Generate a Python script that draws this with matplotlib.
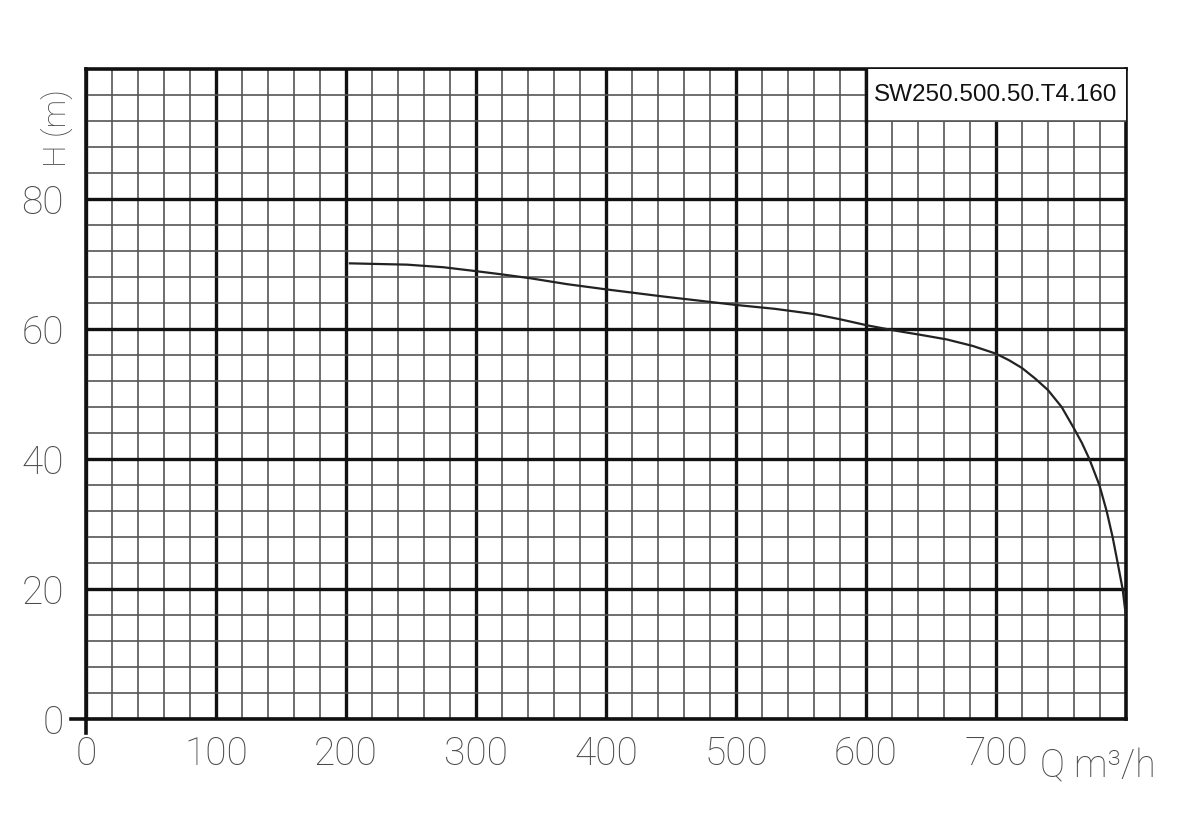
import matplotlib
matplotlib.use('Agg')
import matplotlib.pyplot as plt
from matplotlib.ticker import MultipleLocator
from matplotlib.patches import Rectangle

# pump curve (Q in m3/h, H in m)
flow = [203, 225, 247, 275, 300, 320, 342, 370, 400, 444, 470, 500, 530,
        560, 580, 600, 621, 642, 662, 682, 700, 710, 720, 730, 740, 750.5,
        760, 766, 771.8, 779.5, 785.1, 789.7, 793.6, 797.4, 800]
head = [70.1, 70.0, 69.9, 69.5, 68.9, 68.4, 67.8, 66.9, 66.1, 65.0, 64.4,
        63.7, 63.1, 62.3, 61.5, 60.6, 59.8, 59.1, 58.4, 57.4, 56.2, 55.2,
        54.0, 52.4, 50.6, 48.0, 44.7, 42.5, 40.0, 36.0, 32.0, 28.0, 24.0,
        20.0, 15.7]

model_name = 'SW250.500.50.T4.160'
x_ticks = [0, 100, 200, 300, 400, 500, 600, 700]
y_ticks = [0, 20, 40, 60, 80]

label_font = dict(family=['Roboto', 'DejaVu Sans'], weight='light', color='#4a4a4a')

fig = plt.figure(figsize=(12, 8.32), dpi=100)
ax = fig.add_axes([86/1200, 113/832, 1040/1200, 650/832])

ax.set_xlim(0, 800)
ax.set_ylim(0, 100)
ax.xaxis.set_major_locator(MultipleLocator(100))
ax.xaxis.set_minor_locator(MultipleLocator(20))
ax.yaxis.set_major_locator(MultipleLocator(20))
ax.yaxis.set_minor_locator(MultipleLocator(4))

ax.grid(which='minor', color='#555555', linewidth=1.2)
ax.grid(which='major', color='#111111', linewidth=2.4)
ax.set_axisbelow(True)
for sp in ax.spines.values():
    sp.set_linewidth(2.6)
    sp.set_color('#111111')

ax.set_xticks(x_ticks)
ax.set_yticks(y_ticks)
ax.set_xticklabels([str(v) for v in x_ticks], fontsize=28, **label_font)
ax.set_yticklabels([str(v) for v in y_ticks], fontsize=28, **label_font)
ax.tick_params(which='both', length=0)
ax.tick_params(axis='x', pad=12)
ax.tick_params(axis='y', pad=16)

# little extensions of the axes at the origin
ax.plot([-0.014, 0], [0, 0], transform=ax.transAxes, color='#111111',
        lw=2.6, clip_on=False)
ax.plot([0, 0], [-0.022, 0], transform=ax.transAxes, color='#111111',
        lw=2.6, clip_on=False)

ax.plot(flow, head, color='#222222', lw=1.6, zorder=4,
        solid_joinstyle='round')

# model name box in the top right corner
ax.add_patch(Rectangle((600, 92), 200, 8, facecolor='white', edgecolor='none',
                       zorder=3))
ax.plot([600, 800], [92, 92], color='#555555', lw=1.2, zorder=3)
ax.plot([600, 600], [92, 100], color='#111111', lw=2.4, zorder=3)
ax.text(700, 96, model_name, ha='center', va='center', fontsize=17.5,
        family=['Liberation Sans', 'DejaVu Sans'], color='#111111', zorder=5)

fig.text(57/1200, 1 - 128/832, 'H (m)', rotation=90, ha='center', va='center',
         fontsize=23, **label_font)
fig.text(1098/1200, 1 - 767/832, 'Q m³/h', ha='center', va='center',
         fontsize=27, **label_font)

fig.savefig('out.png', dpi=100, facecolor='white')
